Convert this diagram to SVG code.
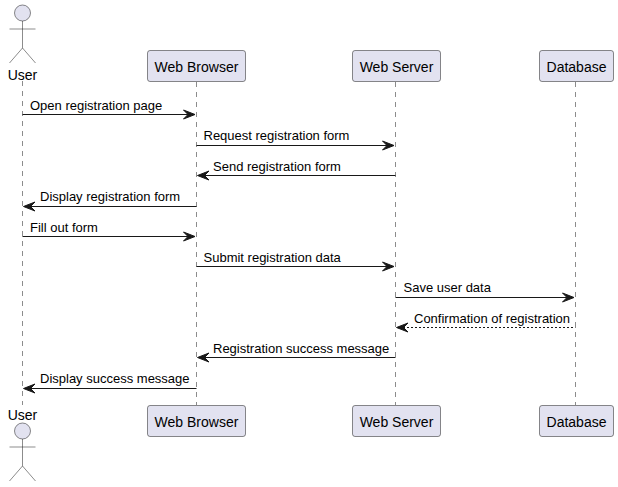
<svg xmlns="http://www.w3.org/2000/svg" width="618" height="487" viewBox="0 0 618 487">
<style>
text{font-family:"Liberation Sans",Arial,sans-serif;fill:#000}
.m{font-size:13px}
.p{font-size:14px}
.life{stroke:#181818;stroke-width:.5;stroke-dasharray:5,5;fill:none}
.box{fill:#E2E2F0;stroke:#181818;stroke-width:.5}
.act{fill:#E2E2F0;stroke:#181818;stroke-width:.5}
.msg{stroke:#181818;stroke-width:1;fill:none}
.dash{stroke-dasharray:2,2}
.head{fill:#181818;stroke:#181818;stroke-width:1}
</style>
<defs>
<g id="actor"><circle class="act" cx="0" cy="0" r="8"/><path class="act" style="fill:none" d="M0 8V35M-13 16H13M0 35L-13 50M0 35L13 50"/></g>
<polygon id="hr" class="head" points="-11.5,-4.5 0,0 -11.5,4.5 -7,0"/>
<polygon id="hl" class="head" points="11.5,-4.5 0,0 11.5,4.5 7,0"/>
</defs>
<g id="lifelines">
<line class="life" x1="22.5" y1="81" x2="22.5" y2="405"/>
<line class="life" x1="196.5" y1="82" x2="196.5" y2="405"/>
<line class="life" x1="395.5" y1="82" x2="395.5" y2="405"/>
<line class="life" x1="575.5" y1="82" x2="575.5" y2="405"/>
</g>
<g id="connectors">
<line class="msg" x1="22.5" y1="114.5" x2="189" y2="114.5"/><use href="#hr" x="195" y="114.5"/>
<line class="msg" x1="196.5" y1="145.5" x2="388" y2="145.5"/><use href="#hr" x="394" y="145.5"/>
<line class="msg" x1="203" y1="175.5" x2="395.5" y2="175.5"/><use href="#hl" x="197.5" y="175.5"/>
<line class="msg" x1="29" y1="206.5" x2="196.5" y2="206.5"/><use href="#hl" x="23.5" y="206.5"/>
<line class="msg" x1="22.5" y1="236.5" x2="189" y2="236.5"/><use href="#hr" x="195" y="236.5"/>
<line class="msg" x1="196.5" y1="266.5" x2="388" y2="266.5"/><use href="#hr" x="394" y="266.5"/>
<line class="msg" x1="395.5" y1="297.5" x2="568" y2="297.5"/><use href="#hr" x="574" y="297.5"/>
<line class="msg dash" x1="403" y1="327.5" x2="575.5" y2="327.5"/><use href="#hl" x="396.5" y="327.5"/>
<line class="msg" x1="203" y1="357.5" x2="395.5" y2="357.5"/><use href="#hl" x="197.5" y="357.5"/>
<line class="msg" x1="29" y1="388.5" x2="196.5" y2="388.5"/><use href="#hl" x="23.5" y="388.5"/>
</g>
<g id="labels">
<text class="m" x="30" y="110">Open registration page</text>
<text class="m" x="203.5" y="140">Request registration form</text>
<text class="m" x="213" y="171">Send registration form</text>
<text class="m" x="40" y="201">Display registration form</text>
<text class="m" x="30" y="232">Fill out form</text>
<text class="m" x="203.5" y="262">Submit registration data</text>
<text class="m" x="403.5" y="292">Save user data</text>
<text class="m" x="414" y="323">Confirmation of registration</text>
<text class="m" x="213" y="353">Registration success message</text>
<text class="m" x="40" y="383">Display success message</text>
</g>
<g id="user-top"><use href="#actor" x="22.5" y="13"/><text class="p" x="22.5" y="80" text-anchor="middle">User</text></g>
<g id="user-bottom"><use href="#actor" x="22.5" y="431"/><text class="p" x="22.5" y="420" text-anchor="middle">User</text></g>
<g id="browser-top"><rect class="box" x="147.5" y="50.5" width="98" height="31" rx="2.5"/><text class="p" x="196.5" y="72" text-anchor="middle">Web Browser</text></g>
<g id="browser-bottom"><rect class="box" x="147.5" y="405.5" width="98" height="31" rx="2.5"/><text class="p" x="196.5" y="427" text-anchor="middle">Web Browser</text></g>
<g id="server-top"><rect class="box" x="352.5" y="50.5" width="88" height="31" rx="2.5"/><text class="p" x="396.5" y="72" text-anchor="middle">Web Server</text></g>
<g id="server-bottom"><rect class="box" x="352.5" y="405.5" width="88" height="31" rx="2.5"/><text class="p" x="396.5" y="427" text-anchor="middle">Web Server</text></g>
<g id="database-top"><rect class="box" x="539.5" y="50.5" width="74" height="31" rx="2.5"/><text class="p" x="576.5" y="72" text-anchor="middle">Database</text></g>
<g id="database-bottom"><rect class="box" x="539.5" y="405.5" width="74" height="31" rx="2.5"/><text class="p" x="576.5" y="427" text-anchor="middle">Database</text></g>
</svg>
